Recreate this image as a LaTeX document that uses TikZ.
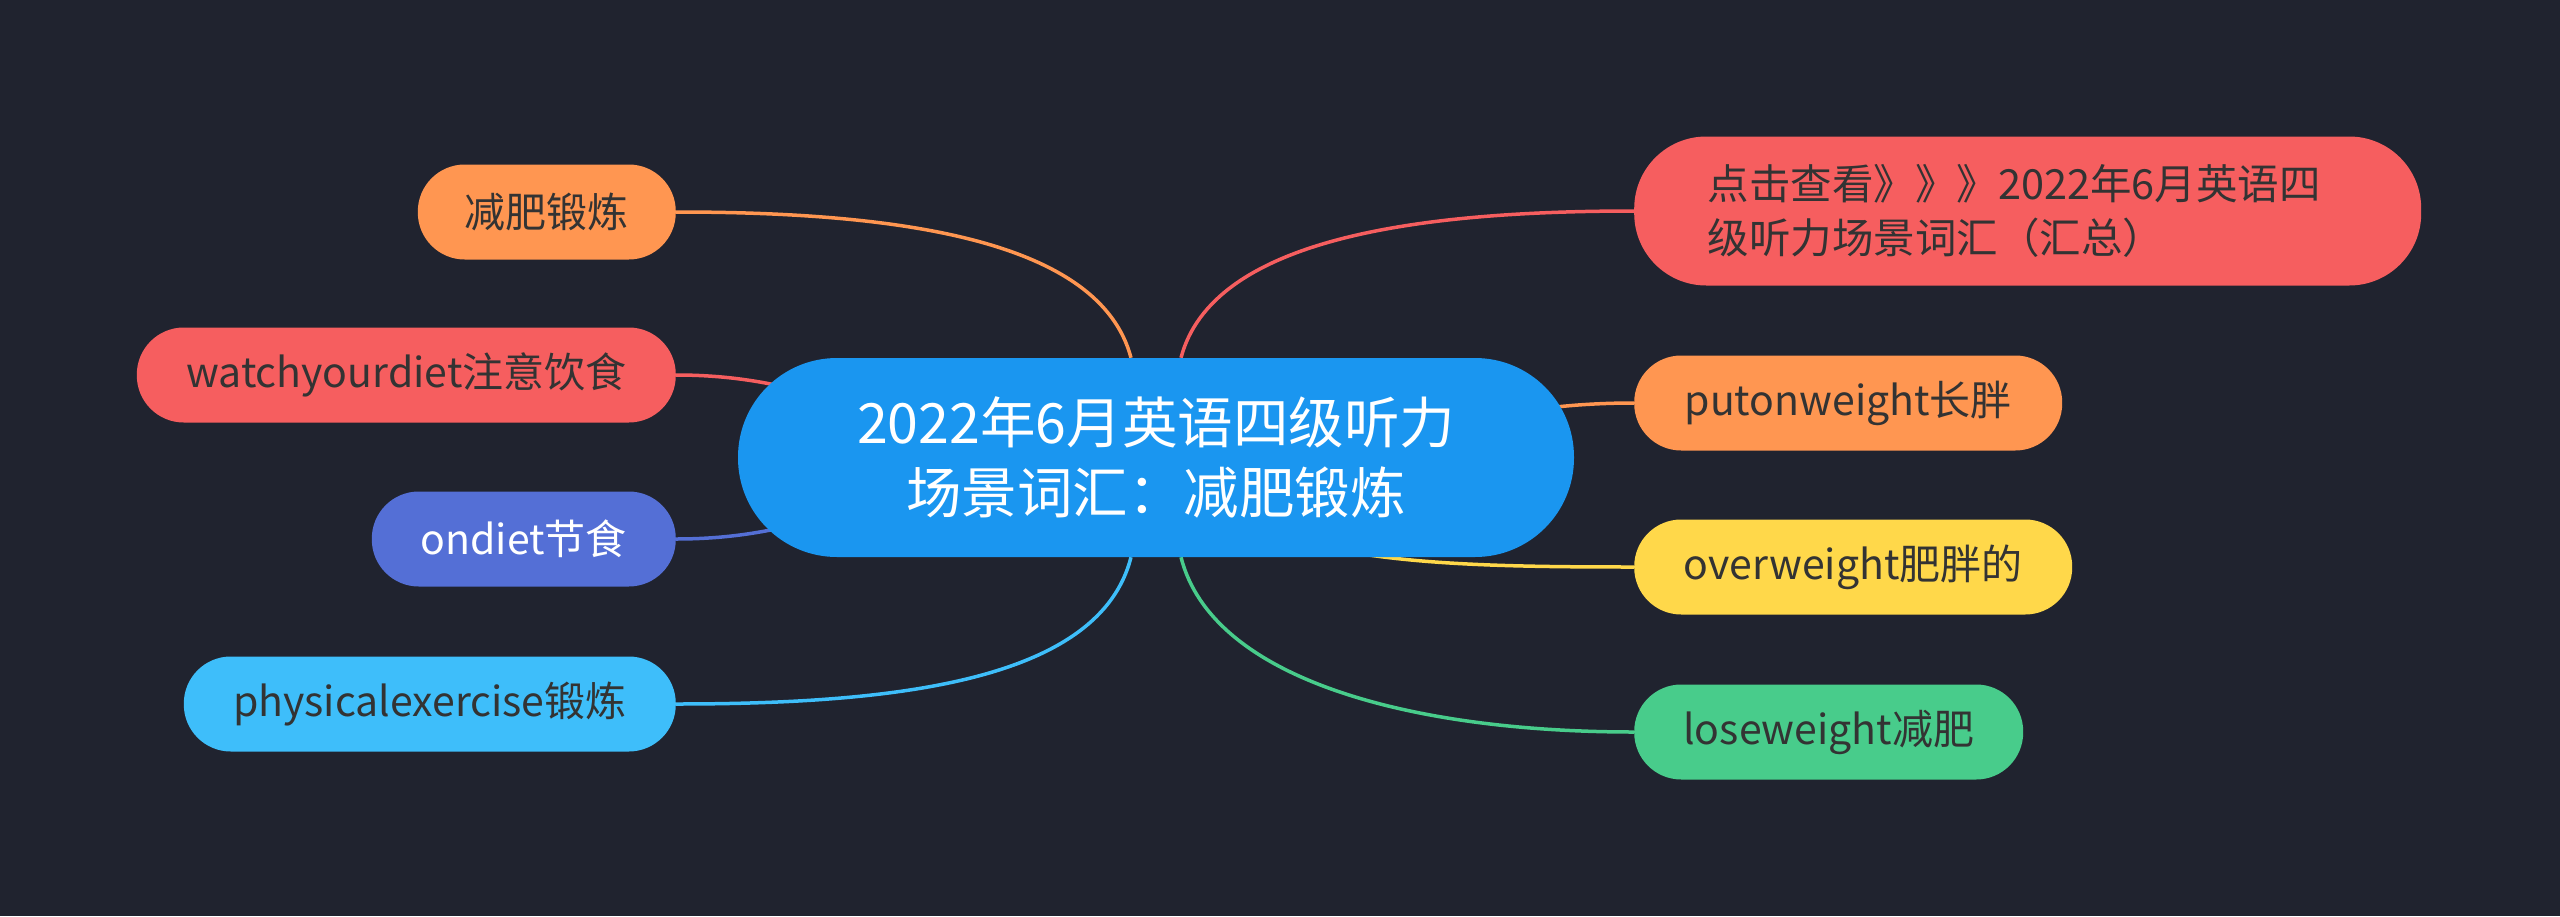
\documentclass[tikz,border=0pt]{standalone}
\usepackage{fontspec}
\setmainfont{Noto Sans CJK SC}
\definecolor{bgc}{HTML}{20232F}
\definecolor{cmain}{HTML}{1A96F0}
\definecolor{corange}{HTML}{FF9651}
\definecolor{cred}{HTML}{F65E5F}
\definecolor{cindigo}{HTML}{546FD6}
\definecolor{csky}{HTML}{3EBEFA}
\definecolor{cyellow}{HTML}{FFD84A}
\definecolor{cgreen}{HTML}{48CC8B}
\definecolor{ctext}{HTML}{333333}
\pgfdeclarelayer{bg}
\pgfdeclarelayer{edges}
\pgfsetlayers{bg,edges,main}
\begin{document}
\begin{tikzpicture}[x=1pt,y=-1pt,
  leaf/.style={rounded corners=47pt, minimum height=95pt, inner xsep=0pt, inner ysep=0pt,
    font=\fontsize{41}{48}\selectfont, text=ctext},
  rootnode/.style={rounded corners=99pt, minimum height=199pt, minimum width=836pt,
    fill=cmain, text=white, align=center, font=\fontsize{55.5}{70}\selectfont},
  link/.style={line width=3.5pt}]
\begin{pgfonlayer}{bg}
\fill[bgc] (0,0) rectangle (2560,916);
\end{pgfonlayer}
\useasboundingbox (0,0) rectangle (2560,916);

\node[rootnode] (main) at (1156,457.5) {2022年6月英语四级听力\\场景词汇：减肥锻炼};

\node[leaf, fill=corange, anchor=east, minimum width=258pt] (l1) at (676,212) {减肥锻炼};
\node[leaf, fill=cred, anchor=east, minimum width=539pt] (l2) at (676,375) {watchyourdiet注意饮食};
\node[leaf, fill=cindigo, text=white, anchor=east, minimum width=304pt] (l3) at (676,539) {ondiet节食};
\node[leaf, fill=csky, anchor=east, minimum width=492pt] (l4) at (676,704) {physicalexercise锻炼};

\node[leaf, fill=cred, anchor=west, minimum width=787pt, minimum height=149pt, rounded corners=72pt,
  text width=640pt, align=left, font=\fontsize{41.5}{54}\selectfont] (r1) at (1634,211)
  {点击查看》》》2022年6月英语四\\级听力场景词汇（汇总）};
\node[leaf, fill=corange, anchor=west, minimum width=428pt] (r2) at (1634,403) {putonweight长胖};
\node[leaf, fill=cyellow, anchor=west, minimum width=438pt] (r3) at (1634,567) {overweight肥胖的};
\node[leaf, fill=cgreen, anchor=west, minimum width=389pt] (r4) at (1634,732) {loseweight减肥};

\begin{pgfonlayer}{edges}
\draw[link, corange] ([xshift=-25pt]main.north) .. controls (1100,240) and (900,212) .. (l1.east);
\draw[link, cred] (main.center) .. controls (900,457) and (850,375) .. (l2.east);
\draw[link, cindigo] (main.center) .. controls (900,457) and (850,539) .. (l3.east);
\draw[link, csky] ([xshift=-25pt]main.south) .. controls (1100,680) and (900,704) .. (l4.east);
\draw[link, cred] ([xshift=25pt]main.north) .. controls (1212,240) and (1412,211) .. (r1.west);
\draw[link, corange] (main.center) .. controls (1412,457) and (1460,403) .. (r2.west);
\draw[link, cyellow] (main.center) .. controls (1250,560) and (1400,567) .. (r3.west);
\draw[link, cgreen] ([xshift=25pt]main.south) .. controls (1212,680) and (1412,732) .. (r4.west);
\end{pgfonlayer}
\end{tikzpicture}
\end{document}
